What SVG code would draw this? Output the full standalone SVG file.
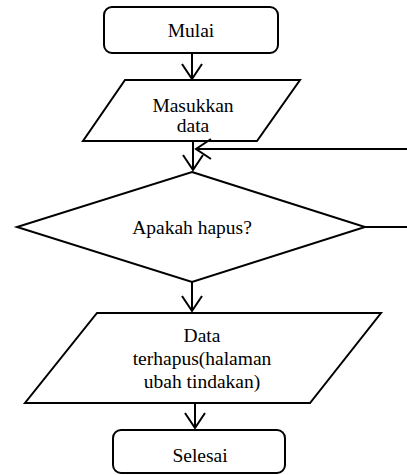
<svg xmlns="http://www.w3.org/2000/svg" width="407" height="475" viewBox="0 0 407 475">
<style>
.shape{fill:#fff;stroke:#000;stroke-width:2;stroke-linejoin:miter}
.conn{fill:none;stroke:#000;stroke-width:2}
.t{font-family:'Liberation Serif','Times New Roman',Times,serif;font-size:19.5px;fill:#000;text-anchor:middle}
</style>
<defs>
<marker id="arr" markerUnits="userSpaceOnUse" viewBox="-17 -12 19 24" refX="0" refY="0" markerWidth="19" markerHeight="24" orient="auto" overflow="visible">
<path d="M-15,-10 L0,0 L-15,10" fill="none" stroke="#000" stroke-width="2"/>
</marker>
</defs>
<rect width="407" height="475" fill="#fff"/>
<g id="mulai">
<rect class="shape" x="104" y="7" width="174" height="46" rx="8"/>
<text class="t" font-family="Liberation Serif, serif" x="191" y="37">Mulai</text>
</g>
<g id="masukkan">
<polygon class="shape" points="125,80 300,80 257,141 83,141"/>
<text class="t" font-family="Liberation Serif, serif" x="193" y="112">Masukkan</text>
<text class="t" font-family="Liberation Serif, serif" x="193" y="132">data</text>
</g>
<g id="apakah">
<polygon class="shape" points="192,172 365,227 192,282 17,227"/>
<text class="t" font-family="Liberation Serif, serif" x="192" y="234">Apakah hapus?</text>
</g>
<g id="terhapus">
<polygon class="shape" points="97,313 381,313 310,403 25,403"/>
<text class="t" font-family="Liberation Serif, serif" x="202" y="342">Data</text>
<text class="t" font-family="Liberation Serif, serif" x="202" y="365">terhapus(halaman</text>
<text class="t" font-family="Liberation Serif, serif" x="202" y="388">ubah tindakan)</text>
</g>
<g id="selesai">
<rect class="shape" x="113" y="430" width="172" height="43" rx="8"/>
<text class="t" font-family="Liberation Serif, serif" x="200" y="462">Selesai</text>
</g>
<g id="connectors">
<line class="conn" x1="192" y1="53" x2="192" y2="79" marker-end="url(#arr)"/>
<line class="conn" x1="193" y1="141" x2="193" y2="170" marker-end="url(#arr)"/>
<line class="conn" x1="407" y1="149" x2="196" y2="149" marker-end="url(#arr)"/>
<line class="conn" x1="365" y1="227" x2="407" y2="227"/>
<line class="conn" x1="192" y1="282" x2="192" y2="311" marker-end="url(#arr)"/>
<line class="conn" x1="195" y1="403" x2="195" y2="428" marker-end="url(#arr)"/>
</g>
</svg>
